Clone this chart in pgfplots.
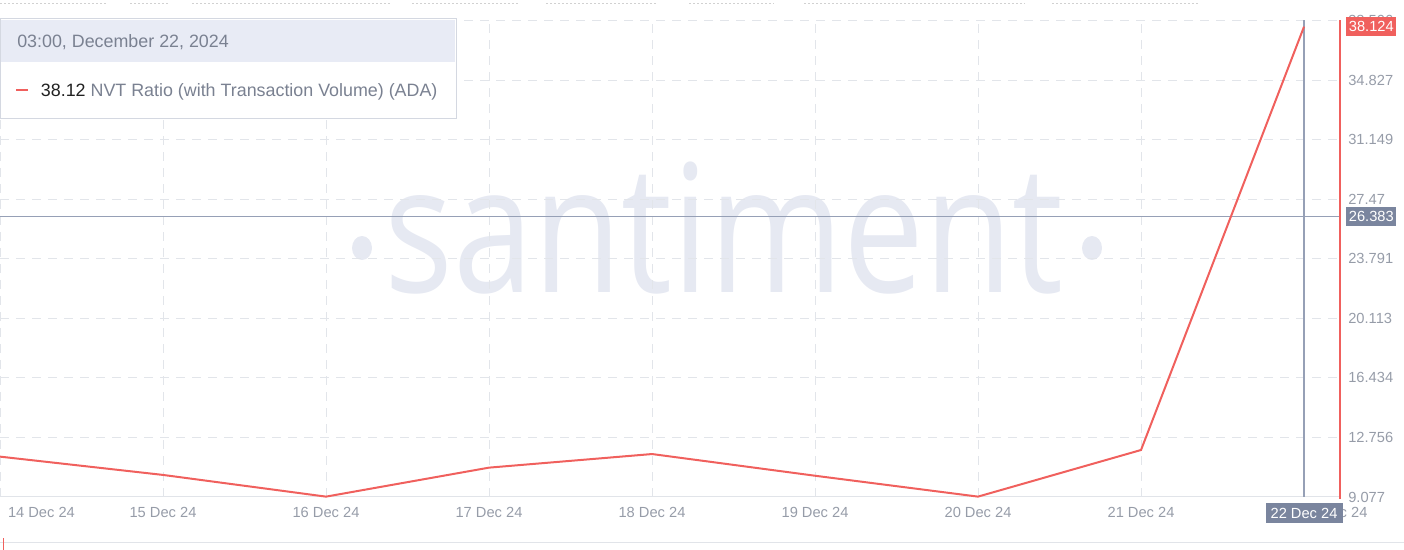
\documentclass[border=0pt]{standalone}
\usepackage{pgfplots}
\pgfplotsset{compat=1.18}
\usepackage{fontspec}
\setmainfont{Liberation Sans}
\newfontfamily\wm{Open Sans}
\definecolor{nvtred}{RGB}{240,96,93}
\definecolor{slate}{RGB}{122,133,158}
\definecolor{crosscol}{RGB}{150,160,182}
\definecolor{gridcol}{RGB}{226,229,234}
\definecolor{tickcol}{RGB}{150,156,168}
\definecolor{leghead}{RGB}{232,235,245}
\definecolor{legborder}{RGB}{212,216,225}
\definecolor{legtext}{RGB}{122,129,145}
\definecolor{wmcol}{RGB}{230,233,242}
\definecolor{basecol}{RGB}{225,228,233}
\begin{document}
\begin{tikzpicture}
\path[use as bounding box] (0,0) rectangle (1053pt,412.5pt);
% watermark
\node[anchor=base, text=wmcol, inner sep=0pt] at (543pt,192.75pt) {\scalebox{0.81}[1]{\wm\fontsize{133.5pt}{133.5pt}\selectfont santiment}};
\fill[wmcol] (271.5pt,226.5pt) ellipse [x radius=7.5pt, y radius=9pt];
\fill[wmcol] (819pt,226.5pt) ellipse [x radius=7.5pt, y radius=9pt];
% faint top strip
\foreach \a/\b in {0/106,130/170,192/390,412/519,546/658,689/774,804/1025,1052/1200}
  \draw[black!18, line width=0.75pt, dash pattern=on 1.5pt off 1.5pt] (\a*0.75pt,410pt) -- (\b*0.75pt,410pt);
% bottom strip
\draw[basecol, line width=0.75pt] (0,5.25pt) -- (1053pt,5.25pt);
\draw[nvtred, line width=0.75pt] (2.25pt,0pt) -- (2.25pt,9pt);
\begin{axis}[
  at={(0pt,39.75pt)}, anchor=south west, scale only axis,
  width=1005pt, height=357.75pt,
  xmin=0, xmax=8.2209, ymin=9.077, ymax=38.534,
  axis line style={draw=none},
  major tick length=0pt,
  grid=major,
  major grid style={gridcol, line width=0.75pt, dash pattern=on 6.75pt off 5.25pt},
  xtick={0,1,2,3,4,5,6,7,8},
  xticklabels={{\makebox[0pt]{\hspace*{62.2pt}14 Dec 24}},15 Dec 24,16 Dec 24,17 Dec 24,18 Dec 24,19 Dec 24,20 Dec 24,21 Dec 24,{\makebox[0pt]{\hspace*{45pt}22 Dec 24}}},
  ytick={9.077,12.756,16.434,20.113,23.791,27.47,31.149,34.827,38.506},
  yticklabels={9.077,12.756,16.434,20.113,23.791,27.47,31.149,34.827,38.506},
  yticklabel pos=right,
  tick label style={font=\fontsize{11}{13}\selectfont, text=tickcol},
  yticklabel style={anchor=west, inner sep=0pt, xshift=6pt},
  xticklabel style={anchor=north, inner sep=0pt, yshift=-7.5pt},
  clip=false,
]
\draw[basecol, line width=0.75pt] (axis cs:0,9.077) -- (axis cs:8.2209,9.077);
\draw[crosscol, line width=0.9pt] (axis cs:0,26.383) -- (axis cs:8.2209,26.383);
\draw[crosscol, line width=0.9pt] (axis cs:8,9.077) -- (axis cs:8,38.534);
\draw[nvtred, line width=1.5pt] (axis cs:8.2209,8.95) -- (axis cs:8.2209,38.534);
\addplot[nvtred, line width=1.5pt] coordinates {
 (0,11.57) (1,10.44) (2,9.10) (3,10.89) (4,11.73) (5,10.39) (6,9.10) (7,11.98) (8,38.124)
};
\coordinate (hl) at (axis cs:8.2209,26.383);
\coordinate (rl) at (axis cs:8.2209,38.124);
\coordinate (vb) at (axis cs:8,9.077);
\end{axis}
\node[fill=slate, text=white, anchor=west, xshift=4.5pt, minimum width=37.5pt, minimum height=14.25pt, inner sep=0pt, font=\fontsize{11}{13}\selectfont] at (hl) {26.383};
\node[fill=nvtred, text=white, anchor=west, xshift=4.5pt, minimum width=37.5pt, minimum height=14.25pt, inner sep=0pt, font=\fontsize{11}{13}\selectfont] at (rl) {38.124};
\node[fill=slate, text=white, anchor=north, yshift=-4.5pt, minimum width=57.75pt, minimum height=15pt, inner sep=0pt, font=\fontsize{11}{13}\selectfont] at (vb) {22 Dec 24};
% legend box
\draw[legborder, fill=white, line width=0.75pt] (0,323.25pt) rectangle (342pt,398.25pt);
\fill[leghead] (0.4pt,366pt) rectangle (341.6pt,397.85pt);
\node[anchor=base west, inner sep=0pt, text=legtext, font=\fontsize{13.4}{15}\selectfont] at (12.75pt,376.7pt) {03:00, December 22, 2024};
\draw[nvtred, line width=2pt] (12pt,345pt) -- (21pt,345pt);
\node[anchor=base west, inner sep=0pt, font=\fontsize{13.4}{15}\selectfont] at (30.5pt,339.75pt) {\textcolor{black!87}{38.12} \textcolor{legtext}{NVT Ratio (with Transaction Volume) (ADA)}};
\end{tikzpicture}
\end{document}
